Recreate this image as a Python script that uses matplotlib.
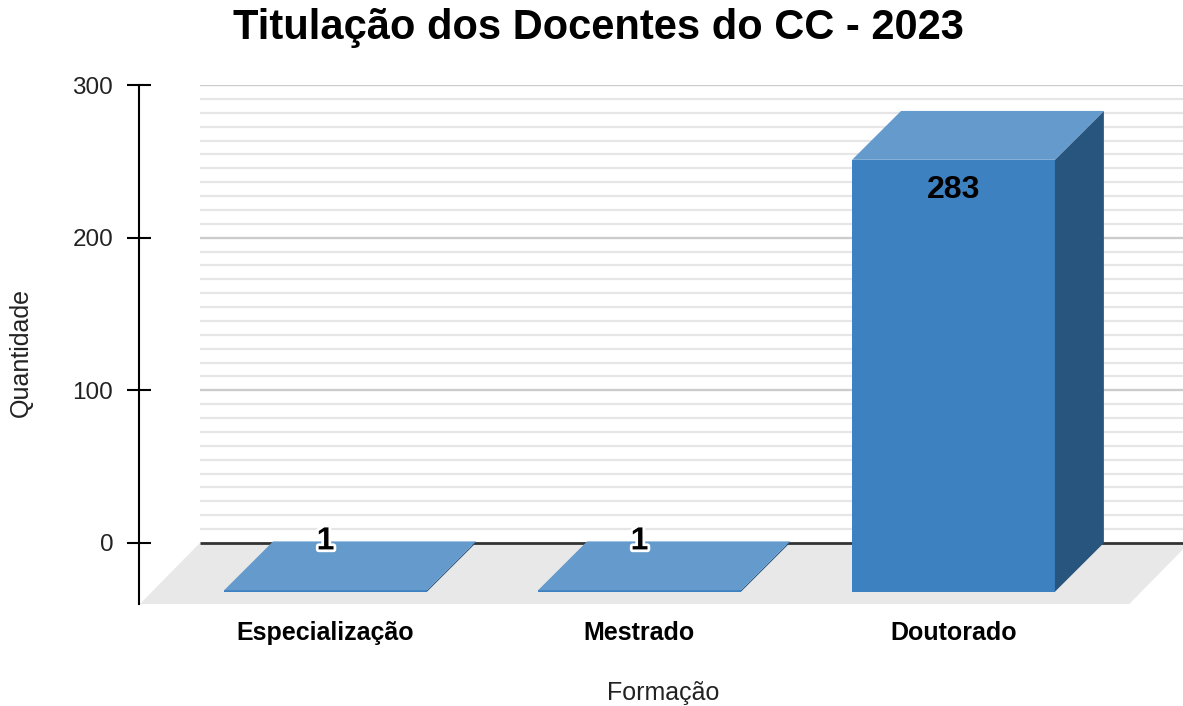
import numpy as np
import matplotlib.pyplot as plt
from matplotlib.patches import Polygon
import matplotlib.patheffects as pe

plt.rcParams['font.family'] = ['Liberation Sans', 'DejaVu Sans']

# dados
categorias = ['Especialização', 'Mestrado', 'Doutorado']
quantidades = [1, 1, 283]
ticks_y = [0, 100, 200, 300]

titulo = 'Titulação dos Docentes do CC - 2023'
rotulo_x = 'Formação'
rotulo_y = 'Quantidade'

# cores
cor_frente = '#3d81c1'
cor_topo = '#659bcc'
cor_lado = '#28557d'
cor_piso = '#e8e8e8'

# geometria do efeito 3D (unidades de dados)
largura = 0.646
prof_dx, prof_dy = 0.156, 32.0   # frente -> fundo da barra
piso_dx, piso_dy = 0.191, 40.0   # profundidade do piso
parede_x0 = -0.40
x_min, x_max = -0.594, 2.731
y_min, y_max = -40, 300


def barra_3d(ax, x, v):
    x0, x1 = x - largura / 2, x + largura / 2
    yb, yt = -prof_dy, v - prof_dy
    frente = Polygon([(x0, yb), (x1, yb), (x1, yt), (x0, yt)],
                     facecolor=cor_frente, edgecolor='none', zorder=5)
    topo = Polygon([(x0, yt), (x1, yt), (x1 + prof_dx, v), (x0 + prof_dx, v)],
                   facecolor=cor_topo, edgecolor='none', zorder=5)
    lado = Polygon([(x1, yb), (x1 + prof_dx, 0), (x1 + prof_dx, v), (x1, yt)],
                   facecolor=cor_lado, edgecolor='none', zorder=5)
    for p in (frente, lado, topo):
        ax.add_patch(p)


fig = plt.figure(figsize=(11.83, 7.06), dpi=100)
ax = fig.add_axes([0.1175, 0.1445, 0.8825, 0.7351])
ax.set_xlim(x_min, x_max)
ax.set_ylim(y_min, y_max)

# piso
piso = Polygon([(parede_x0, 0), (x_max + 0.02, 0),
                (x_max + 0.02 - piso_dx, -piso_dy), (parede_x0 - piso_dx, -piso_dy)],
               facecolor=cor_piso, edgecolor='none', zorder=1)
ax.add_patch(piso)

# grade na parede do fundo
menores = np.linspace(0, 300, 34)
ax.hlines(menores[1:], parede_x0, x_max, color='#e6e6e6', lw=1.6, zorder=2)
ax.hlines(ticks_y[1:], parede_x0, x_max, color='#cccccc', lw=1.6, zorder=3)
ax.hlines(0, parede_x0, x_max, color='#333333', lw=2, zorder=4)

xs = np.arange(len(categorias))
for x, v in zip(xs, quantidades):
    barra_3d(ax, x, v)
    if v > 60:
        # rotulo dentro da barra
        ax.text(x, v - prof_dy - 20, str(v), ha='center', va='center',
                fontsize=23, fontweight='bold', color='black', zorder=10)
    else:
        ax.text(x, v, str(v), ha='center', va='center', fontsize=23,
                fontweight='bold', color='black', zorder=10,
                path_effects=[pe.withStroke(linewidth=4, foreground='white')])

for s in ('top', 'right', 'bottom'):
    ax.spines[s].set_visible(False)
ax.spines['left'].set_linewidth(1.5)

ax.set_yticks(ticks_y)
ax.tick_params(axis='y', direction='inout', length=17, width=1.5,
               labelsize=17.5, pad=10, colors='black', labelcolor='#222222')
ax.set_xticks(xs)
ax.set_xticklabels(categorias, fontsize=18, fontweight='bold')
ax.tick_params(axis='x', length=0, pad=12)

ax.set_xlabel(rotulo_x, fontsize=18, color='#222222')
ax.xaxis.set_label_coords(0.502, -0.148)
ax.set_ylabel(rotulo_y, fontsize=18, color='#222222')
ax.yaxis.set_label_coords(-0.1015, 0.4855)

fig.text(0.5055, 1 - 39 / 706, titulo, ha='center', va='baseline',
         fontsize=30, fontweight='bold', color='black')

fig.savefig('out.png', dpi=100)
